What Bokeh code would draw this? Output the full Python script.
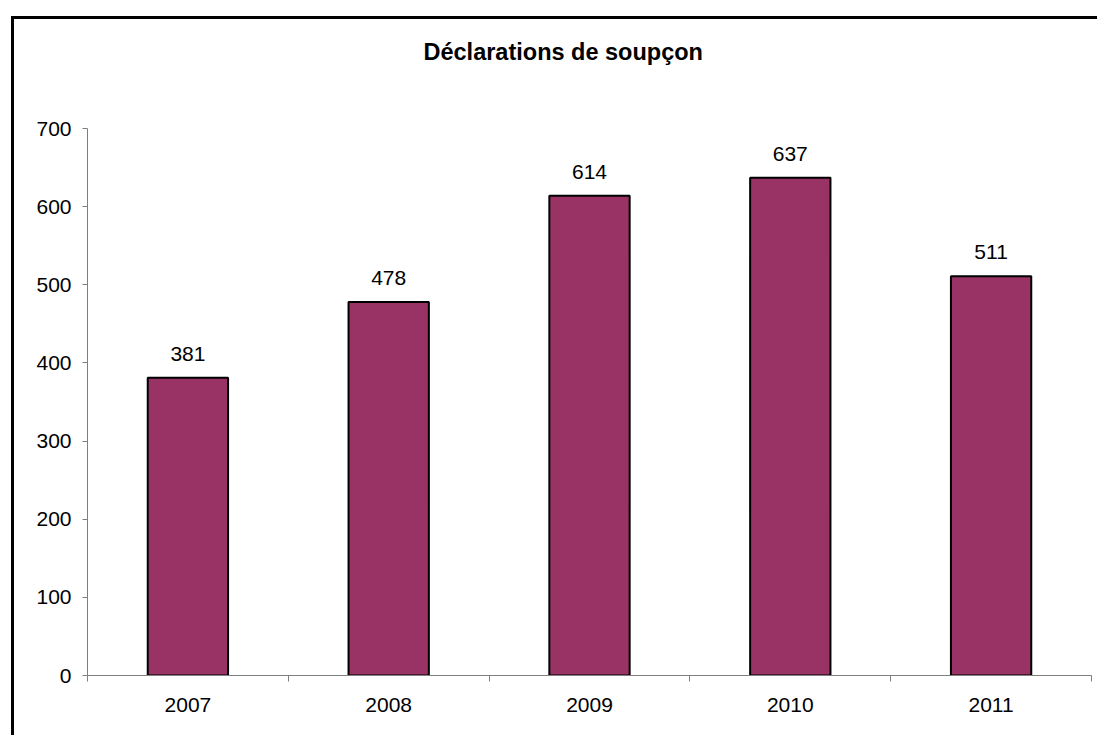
from bokeh.plotting import figure
from bokeh.models import ColumnDataSource, FixedTicker, LabelSet, Range1d, Title
from bokeh.core.properties import value
from bokeh.embed import file_html
from bokeh.resources import INLINE

years = ["2007", "2008", "2009", "2010", "2011"]
declarations = [381, 478, 614, 637, 511]
y_ticks = [0, 100, 200, 300, 400, 500, 600, 700]
title_text = "Déclarations de soupçon"

xpos = list(range(1, len(years) + 1))
src = ColumnDataSource(dict(x=xpos, top=declarations, lab=[str(v) for v in declarations]))

p = figure(width=1086, height=719, output_backend="svg", toolbar_location=None,
           x_range=Range1d(0.5, len(years) + 0.5), y_range=Range1d(0, 700),
           min_border_left=73, min_border_right=9, min_border_top=109, min_border_bottom=63,
           background_fill_color="white", border_fill_color="white",
           styles={"border-left": "3px solid black", "border-top": "3px solid black",
                   "margin-left": "11px", "margin-top": "16px"})
p.outline_line_color = None
p.grid.visible = False

# spacer (closest to the frame), then the real title above it
p.add_layout(Title(text=" ", text_font="Liberation Sans", text_font_size="23.5px",
                   standoff=36), "above")
p.add_layout(Title(text=title_text, align="left", offset=336, standoff=0,
                   text_font="Liberation Sans", text_font_size="23.5px",
                   text_font_style="bold", text_color="black"), "above")

p.vbar(x="x", top="top", width=0.40, bottom=0, source=src,
       fill_color="#993366", line_color="black", line_width=2)

p.add_layout(LabelSet(x="x", y="top", text="lab", source=src, text_align="center",
                      text_baseline="alphabetic", y_offset=17, text_font=value("Liberation Sans"),
                      text_font_size=value("21px"), text_color="black"))

xa = p.xaxis[0]
xa.ticker = FixedTicker(ticks=xpos, minor_ticks=[i + 0.5 for i in range(0, len(years) + 1)])
xa.major_label_overrides = {i: y for i, y in zip(xpos, years)}
xa.major_tick_out = 0
xa.major_tick_in = 0
xa.minor_tick_out = 6
xa.minor_tick_in = 0
xa.minor_tick_line_color = "#7f7f7f"
xa.axis_line_color = "#7f7f7f"
xa.major_label_standoff = 16
xa.major_label_text_font = "Liberation Sans"
xa.major_label_text_font_size = "21px"
xa.major_label_text_color = "black"

ya = p.yaxis[0]
ya.ticker = FixedTicker(ticks=y_ticks)
ya.major_tick_out = 5
ya.major_tick_in = 0
ya.minor_tick_line_color = None
ya.axis_line_color = "#7f7f7f"
ya.major_tick_line_color = "#7f7f7f"
ya.major_label_standoff = 11
ya.major_label_text_font = "Liberation Sans"
ya.major_label_text_font_size = "21px"
ya.major_label_text_color = "black"

open("out.html", "w").write(file_html(p, INLINE))
